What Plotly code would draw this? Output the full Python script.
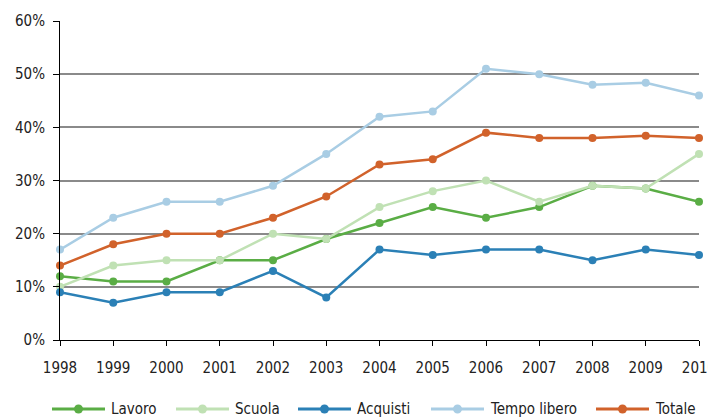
import plotly.graph_objects as go

years = [1998, 1999, 2000, 2001, 2002, 2003, 2004, 2005, 2006, 2007, 2008, 2009, 2010]
lavoro = [12, 11, 11, 15, 15, 19, 22, 25, 23, 25, 29, 28.5, 26]
scuola = [10, 14, 15, 15, 20, 19, 25, 28, 30, 26, 29, 28.5, 35]
acquisti = [9, 7, 9, 9, 13, 8, 17, 16, 17, 17, 15, 17, 16]
tempo_libero = [17, 23, 26, 26, 29, 35, 42, 43, 51, 50, 48, 48.4, 46]
totale = [14, 18, 20, 20, 23, 27, 33, 34, 39, 38, 38, 38.4, 38]

series = [
    ("Lavoro", lavoro, "#5aad45"),
    ("Scuola", scuola, "#c0e1b4"),
    ("Acquisti", acquisti, "#2b80b6"),
    ("Tempo libero", tempo_libero, "#a9cde4"),
    ("Totale", totale, "#d1622b"),
]

# figure geometry (page has an 8px body margin)
W, H = 708, 411
ML, MR, MT, MB = 52, 17, 13, 79
OFF = 8
PW = W - ML - MR
PH = H - MT - MB


def px_to_paper_x(px):
    return (px - OFF - ML) / PW


def px_to_paper_y(py):
    return (H - MB + OFF - py) / PH


# custom legend layout (line start px on page)
legend_starts = [52, 176, 298, 431, 596]
legend_line_len = 53
legend_y = 409

fig = go.Figure()
for name, vals, col in series:
    fig.add_trace(go.Scatter(
        x=years, y=[v / 100 for v in vals], name=name, mode="lines+markers",
        line=dict(color=col, width=2.5), marker=dict(color=col, size=8),
        cliponaxis=False, showlegend=False,
    ))

font = "DejaVu Sans Condensed, sans-serif"
shapes = []
annotations = []
ly = px_to_paper_y(legend_y)
for (name, vals, col), sx in zip(series, legend_starts):
    x0 = px_to_paper_x(sx)
    x1 = px_to_paper_x(sx + legend_line_len)
    xm = px_to_paper_x(sx + legend_line_len / 2)
    shapes.append(dict(type="line", xref="paper", yref="paper", x0=x0, x1=x1, y0=ly, y1=ly,
                       line=dict(color=col, width=3)))
    rx = 4.5 / PW
    ry = 4.5 / PH
    shapes.append(dict(type="circle", xref="paper", yref="paper", x0=xm - rx, x1=xm + rx,
                       y0=ly - ry, y1=ly + ry, fillcolor=col, line=dict(color=col, width=0)))
    annotations.append(dict(text=name, xref="paper", yref="paper",
                            x=px_to_paper_x(sx + legend_line_len + 4), y=ly,
                            xanchor="left", yanchor="middle", showarrow=False,
                            font=dict(family=font, size=15, color="#222")))

fig.update_layout(
    width=W, height=H,
    margin=dict(l=ML, r=MR, t=MT, b=MB),
    paper_bgcolor="white", plot_bgcolor="white",
    font=dict(family=font, size=15, color="#222"),
    showlegend=False,
    shapes=shapes, annotations=annotations,
    xaxis=dict(range=[1998, 2010], tickmode="array", tickvals=years,
               ticktext=[str(y) for y in years], automargin=False,
               ticklabeloverflow="allow", ticklabelstandoff=9,
               showline=True, linecolor="black", linewidth=1,
               ticks="outside", ticklen=5, tickcolor="black",
               showgrid=False, zeroline=False),
    yaxis=dict(range=[0, 0.6], tickvals=[0, 0.1, 0.2, 0.3, 0.4, 0.5, 0.6],
               tickformat=".0%", automargin=False, ticklabelstandoff=5,
               showline=True, linecolor="black", linewidth=1,
               ticks="outside", ticklen=6, tickcolor="black",
               showgrid=True, gridcolor="#8a8a8a", gridwidth=2, zeroline=False),
)

fig.write_html("out.html")
